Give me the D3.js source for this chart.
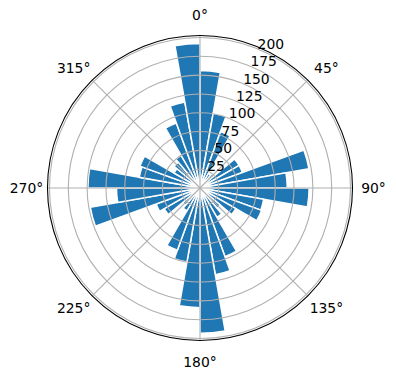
<!DOCTYPE html>
<html>
<head>
<script src="https://d3js.org/d3.v7.min.js"></script>
<style>
  body { margin: 0; background: #fff; }
  text { font-family: "DejaVu Sans", sans-serif; font-size: 13.9px; fill: #000; }
</style>
</head>
<body>
<div id="chart"></div>
<script>
// 36 bins of 10 degrees, clockwise from north
const binStart = [0, 10, 20, 30, 40, 50, 60, 70, 80, 90, 100, 110,
                  120, 130, 140, 150, 160, 170, 180, 190, 200, 210, 220, 230,
                  240, 250, 260, 270, 280, 290, 300, 310, 320, 330, 340, 350];
const counts = [156, 101, 80, 22, 25, 60, 60, 147, 116, 145, 86, 87,
                55, 35, 45, 97, 117, 193, 159, 100, 88, 35, 30, 55,
                62, 148, 111, 149, 82, 85, 40, 45, 50, 92, 116, 192];
const binWidth = 10;
const rTicks = [25, 50, 75, 100, 125, 150, 175, 200];
const thetaTicks = [0, 45, 90, 135, 180, 225, 270, 315];

const w = 396, h = 380;
const cx = 200, cy = 188;
const R = 152.5;
const rmax = d3.max(counts) * 1.05;

const svg = d3.select("#chart").append("svg")
  .attr("width", w).attr("height", h);

const g = svg.append("g").attr("transform", "translate(" + cx + "," + cy + ")");

const ang = d3.scaleLinear().domain([0, 360]).range([0, 2 * Math.PI]);
const rad = d3.scaleLinear().domain([0, rmax]).range([0, R]);

const arc = d3.arc()
  .innerRadius(0)
  .outerRadius(d => rad(d.v))
  .startAngle(d => ang(d.a))
  .endAngle(d => ang(d.a + binWidth));

const bars = binStart.map((a, i) => ({a: a, v: counts[i]}));

g.selectAll("path.bar")
  .data(bars)
  .enter()
  .append("path")
  .attr("class", "bar")
  .attr("d", arc)
  .attr("fill", "#1f77b4")
  .attr("stroke", "#fff")
  .attr("stroke-width", 1.5)
  .attr("stroke-linejoin", "miter");

// grid
g.selectAll("circle.grid")
  .data(rTicks)
  .enter()
  .append("circle")
  .attr("class", "grid")
  .attr("r", d => rad(d))
  .attr("fill", "none")
  .attr("stroke", "#b0b0b0")
  .attr("stroke-width", 1.1);

g.selectAll("line.spoke")
  .data(thetaTicks)
  .enter()
  .append("line")
  .attr("class", "spoke")
  .attr("x1", 0).attr("y1", 0)
  .attr("x2", d => R * Math.sin(ang(d)))
  .attr("y2", d => -R * Math.cos(ang(d)))
  .attr("stroke", "#b0b0b0")
  .attr("stroke-width", 1.1);

// spine
g.append("circle")
  .attr("r", R)
  .attr("fill", "none")
  .attr("stroke", "#000")
  .attr("stroke-width", 1.1);

// theta labels
const labR = R + 21;
g.selectAll("text.theta")
  .data(thetaTicks)
  .enter()
  .append("text")
  .attr("class", "theta")
  .attr("x", d => labR * Math.sin(ang(d)) * (d % 90 ? 1.03 : 1))
  .attr("y", d => -labR * Math.cos(ang(d)) * (d % 90 ? 0.98 : 1))
  .attr("text-anchor", "middle")
  .attr("dominant-baseline", "central")
  .text(d => d + "°");

// radial labels at 22.5 deg
const rlab = ang(22.5);
g.selectAll("text.rlab")
  .data(rTicks)
  .enter()
  .append("text")
  .attr("class", "rlab")
  .attr("x", d => rad(d) * Math.sin(rlab))
  .attr("y", d => -rad(d) * Math.cos(rlab))
  .attr("text-anchor", "start")
  .text(d => d);
</script>
</body>
</html>
